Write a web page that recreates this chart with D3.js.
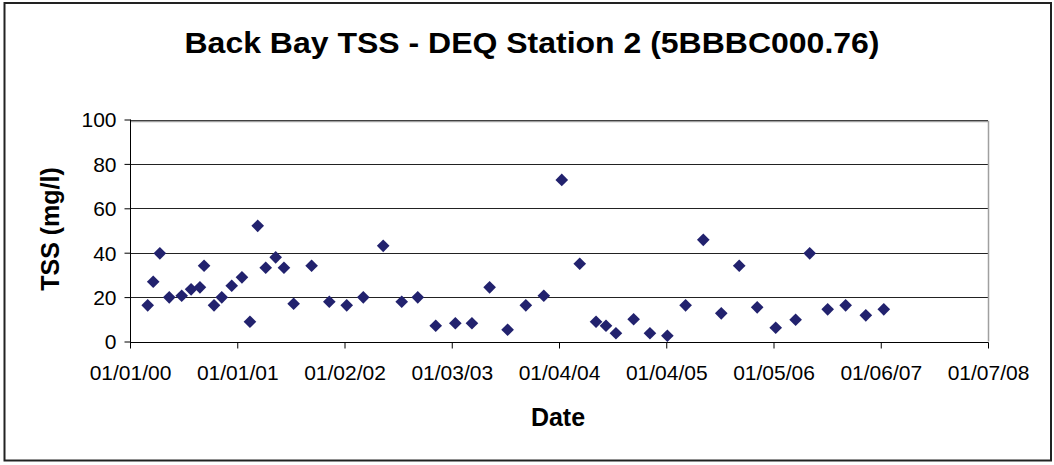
<!DOCTYPE html>
<html>
<head>
<meta charset="utf-8">
<script src="https://cdn.jsdelivr.net/npm/d3@7"></script>
<style>
  html, body { margin: 0; padding: 0; background: #fff; }
  svg { display: block; font-family: "Liberation Sans", Arial, sans-serif; }
</style>
</head>
<body>
<svg id="chart" width="1054" height="465"></svg>
<script>
// ---- data ----
const sampleDates = [
  "2000-03-05","2000-03-25","2000-04-18","2000-05-22","2000-07-06","2000-08-09","2000-09-10","2000-09-25",
  "2000-10-31","2000-11-28","2001-01-03","2001-02-09","2001-03-10","2001-04-07","2001-05-06","2001-06-11",
  "2001-07-11","2001-08-15","2001-10-19","2001-12-22","2002-02-23","2002-04-24","2002-07-05","2002-09-10",
  "2002-11-07","2003-01-11","2003-03-23","2003-05-22","2003-07-25","2003-09-28","2003-12-03","2004-02-06",
  "2004-04-11","2004-06-15","2004-08-13","2004-09-18","2004-10-24","2004-12-27","2005-02-24","2005-04-28",
  "2005-07-03","2005-09-05","2005-11-09","2006-01-13","2006-03-19","2006-05-25","2006-08-05","2006-09-25",
  "2006-11-29","2007-02-02","2007-04-16","2007-06-20"
];
const tssValues = [
  16.3, 26.9, 39.7, 19.9, 20.6, 23.5, 24.4, 34.1,
  16.3, 19.9, 25.1, 28.9, 8.9, 52.1, 33.2, 37.9,
  33.2, 17.0, 34.1, 17.9, 16.3, 19.9, 43.1, 17.9,
  19.9, 7.1, 8.2, 8.2, 24.4, 5.3, 16.3, 20.6,
  72.8, 35.0, 8.9, 7.1, 3.7, 10.0, 3.7, 2.6,
  16.3, 45.8, 12.7, 34.1, 15.4, 6.2, 9.8, 39.7,
  14.5, 16.3, 11.8, 14.5
];
const xTickLabels = ["01/01/00","01/01/01","01/02/02","01/03/03","01/04/04","01/04/05","01/05/06","01/06/07","01/07/08"];
const yTickValues = [0, 20, 40, 60, 80, 100];
const titleText = "Back Bay TSS - DEQ Station 2 (5BBBC000.76)";
const xTitle = "Date";
const yTitle = "TSS (mg/l)";

// ---- layout ----
const svg = d3.select("#chart");
const plot = { left: 130, right: 988, top: 119.5, bottom: 341.5 };

const base = Date.UTC(2000, 0, 1);
const parse = d3.utcParse("%Y-%m-%d");
const dayOf = s => (parse(s) - base) / 864e5;
const axisSpan = (Date.UTC(2008, 6, 1) - base) / 864e5;
const tickStep = axisSpan / (xTickLabels.length - 1);
const xTickValues = xTickLabels.map((_, i) => i * tickStep);

const x = d3.scaleLinear().domain([0, axisSpan]).range([plot.left, plot.right]);
const y = d3.scaleLinear().domain([0, 100]).range([plot.bottom, plot.top]);

// outer border
svg.append("rect")
  .attr("x", 4.5).attr("y", 3).attr("width", 1046.5).attr("height", 457.5)
  .attr("fill", "#fff").attr("stroke", "#222").attr("stroke-width", 2);

// gridlines
svg.append("g").selectAll("line")
  .data(yTickValues.filter(v => v > 0))
  .join("line")
  .attr("x1", plot.left).attr("x2", plot.right)
  .attr("y1", d => Math.round(y(d)) + 0.5).attr("y2", d => Math.round(y(d)) + 0.5)
  .attr("stroke", "#222").attr("stroke-width", 1);

// plot area border (top/right gray)
svg.append("path")
  .attr("d", `M${plot.left},${Math.round(plot.top) + 1.5} H${plot.right + 0.5} V${plot.bottom}`)
  .attr("fill", "none").attr("stroke", "#a0a0a0").attr("stroke-width", 1.5);

// y axis
const yAxis = d3.axisLeft(y).tickValues(yTickValues).tickSize(6).tickPadding(8).tickFormat(d3.format("d"));
const gy = svg.append("g").attr("transform", `translate(${plot.left + 0.5},0)`).call(yAxis);
gy.select(".domain").attr("stroke", "#000").attr("d", `M0,${plot.top}V${plot.bottom + 0.5}`);
gy.selectAll(".tick line").attr("stroke", "#000");
gy.selectAll(".tick text").attr("font-size", 21).attr("fill", "#000")
  .attr("font-family", "Liberation Sans, Arial, sans-serif").attr("dy", "0.35em");

// x axis
const xAxis = d3.axisBottom(x).tickValues(xTickValues).tickSize(6).tickPadding(17)
  .tickFormat((d, i) => xTickLabels[i]);
const gx = svg.append("g").attr("transform", `translate(0,${Math.round(plot.bottom) + 0.5})`).call(xAxis);
gx.select(".domain").attr("stroke", "#000").attr("d", `M${plot.left},0H${plot.right + 0.5}`);
gx.selectAll(".tick line").attr("stroke", "#000");
gx.selectAll(".tick text").attr("font-size", 21).attr("fill", "#000")
  .attr("font-family", "Liberation Sans, Arial, sans-serif").attr("dy", "0.71em");

// points (diamonds)
const diamond = d3.symbol().type(d3.symbolSquare).size(80);
svg.append("g").selectAll("path")
  .data(sampleDates.map((d, i) => ({ t: dayOf(d), v: tssValues[i] })))
  .join("path")
  .attr("d", diamond)
  .attr("transform", d => `translate(${x(d.t)},${y(d.v)}) rotate(45)`)
  .attr("fill", "#22226e");

// title
svg.append("text")
  .attr("x", 532).attr("y", 52.5)
  .attr("text-anchor", "middle")
  .attr("font-size", 30).attr("font-weight", "bold")
  .attr("textLength", 695).attr("lengthAdjust", "spacingAndGlyphs")
  .text(titleText);

// x axis title
svg.append("text")
  .attr("x", (plot.left + plot.right) / 2 - 1).attr("y", 426)
  .attr("text-anchor", "middle")
  .attr("font-size", 25).attr("font-weight", "bold")
  .text(xTitle);

// y axis title
svg.append("text")
  .attr("transform", `translate(59,229) rotate(-90)`)
  .attr("text-anchor", "middle")
  .attr("font-size", 25).attr("font-weight", "bold")
  .text(yTitle);
</script>
</body>
</html>
